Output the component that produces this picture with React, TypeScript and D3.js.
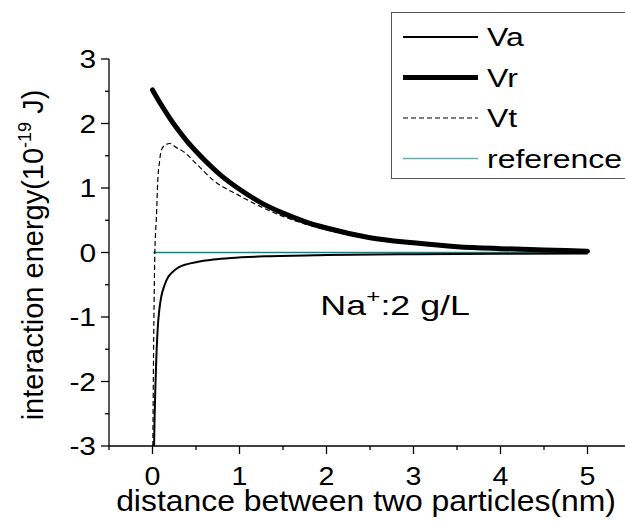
import React from 'react';
import * as d3 from 'd3';

// values (x in nm, energy in 1e-19 J)
const vaX = [0.018, 0.025, 0.035, 0.045, 0.06, 0.08, 0.1, 0.14, 0.18, 0.24, 0.3, 0.4, 0.5, 0.7, 0.9, 1.3, 2, 3, 4, 5];
const vaY = [-3.0, -2.5, -2.0, -1.6, -1.17, -0.87, -0.69, -0.5, -0.38, -0.29, -0.23, -0.18, -0.15, -0.11, -0.085, -0.06, -0.04, -0.027, -0.02, -0.016];

const vrX = [0, 0.1, 0.2, 0.3, 0.4, 0.5, 0.6, 0.8, 1, 1.25, 1.5, 1.75, 2, 2.5, 3, 3.5, 4, 4.5, 5];
const vrY = [2.52, 2.29, 2.08, 1.89, 1.72, 1.57, 1.43, 1.18, 0.98, 0.77, 0.61, 0.48, 0.38, 0.23, 0.15, 0.09, 0.06, 0.04, 0.02];

const vtX = [0.004, 0.012, 0.02, 0.027, 0.035, 0.045, 0.06, 0.08, 0.1, 0.14, 0.2, 0.27, 0.37, 0.5, 0.7, 1.0, 1.5, 2, 2.5, 3, 4, 5];
const vtY = [-3.0, -1.6, -0.6, 0.0, 0.3, 0.55, 1.1, 1.4, 1.58, 1.66, 1.69, 1.63, 1.55, 1.38, 1.12, 0.88, 0.56, 0.35, 0.22, 0.13, 0.04, 0.01];

const refX = [0.01, 5];
const refY = [0, 0];

const xMajor = [0, 1, 2, 3, 4, 5];
const xMinor = [-0.5, 0.5, 1.5, 2.5, 3.5, 4.5];
const yMajor = [-3, -2, -1, 0, 1, 2, 3];
const yMinor = [-2.5, -1.5, -0.5, 0.5, 1.5, 2.5];

const legendNames = ['Va', 'Vr', 'Vt', 'reference'];

const FONT = '"Liberation Sans", Arial, sans-serif';
const TEAL = '#008b8b';

const styles: Record<string, { stroke: string; width: number; dash?: string }> = {
  Va: { stroke: '#000', width: 2 },
  Vr: { stroke: '#000', width: 5 },
  Vt: { stroke: '#000', width: 1.2, dash: '5,3' },
  reference: { stroke: TEAL, width: 1.5 },
};

// text that is a little wider than plain Arial, as in the original
const T: React.FC<{
  x: number;
  y: number;
  size: number;
  sx?: number;
  anchor?: 'start' | 'middle' | 'end';
  rotate?: number;
  dy?: string;
  children: React.ReactNode;
}> = ({ x, y, size, sx = 1, anchor = 'start', rotate = 0, dy, children }) => (
  <text
    transform={`translate(${x},${y}) rotate(${rotate}) scale(${sx},1)`}
    fontSize={size}
    textAnchor={anchor}
    dy={dy}
  >
    {children}
  </text>
);

const App: React.FC = () => {
  const x = d3.scaleLinear().domain([-0.5, 5.5]).range([109, 631]);
  const y = d3.scaleLinear().domain([-3, 3]).range([446, 59]);

  const line = (xs: number[], ys: number[]) =>
    d3
      .line<number>()
      .x((_, i) => x(xs[i]))
      .y((d) => y(d))
      .curve(d3.curveMonotoneX)(ys) || '';

  const series = [
    { name: 'reference', d: line(refX, refY) },
    { name: 'Va', d: line(vaX, vaY) },
    { name: 'Vt', d: line(vtX, vtY) },
    { name: 'Vr', d: line(vrX, vrY) },
  ];

  const x0 = x.range()[0];
  const yb = y.range()[0];

  return (
    <div style={{ position: 'fixed', left: 0, top: 0 }}>
      <svg width={625} height={525} style={{ display: 'block', background: '#fff' }} fontFamily={FONT}>
        <defs>
          <clipPath id="plot">
            <rect x={x0} y={59} width={625 - x0} height={yb - 59} />
          </clipPath>
        </defs>

        <g clipPath="url(#plot)" fill="none">
          {series.map((s) => (
            <path
              key={s.name}
              d={s.d}
              stroke={styles[s.name].stroke}
              strokeWidth={styles[s.name].width}
              strokeDasharray={styles[s.name].dash}
              strokeLinecap={s.name === 'Vr' ? 'round' : 'butt'}
            />
          ))}
        </g>

        {/* axes */}
        <line x1={x0} x2={625} y1={yb} y2={yb} stroke="#000" strokeWidth={1.3} />
        <line x1={x0} x2={x0} y1={59} y2={yb} stroke="#000" strokeWidth={1.3} />
        {xMajor.map((t) => (
          <g key={'xM' + t}>
            <line x1={x(t)} x2={x(t)} y1={yb} y2={yb + 8} stroke="#000" strokeWidth={1.3} />
            <T x={x(t)} y={485} size={26} sx={1.1} anchor="middle">{t}</T>
          </g>
        ))}
        {xMinor.map((t) => (
          <line key={'xm' + t} x1={x(t)} x2={x(t)} y1={yb} y2={yb + 4} stroke="#000" strokeWidth={1.3} />
        ))}
        {yMajor.map((t) => (
          <g key={'yM' + t}>
            <line x1={x0 - 8} x2={x0} y1={y(t)} y2={y(t)} stroke="#000" strokeWidth={1.3} />
            <T x={96} y={y(t)} size={26} sx={1.15} anchor="end" dy="0.36em">{t}</T>
          </g>
        ))}
        {yMinor.map((t) => (
          <line key={'ym' + t} x1={x0 - 4} x2={x0} y1={y(t)} y2={y(t)} stroke="#000" strokeWidth={1.3} />
        ))}

        {/* titles */}
        <T x={366} y={511} size={29} sx={1.1} anchor="middle">distance between two particles(nm)</T>
        <T x={43} y={255} size={29} rotate={-90} anchor="middle">
          interaction energy(10
          <tspan fontSize={18} dy={-12}>-19</tspan>
          <tspan dy={12}> J)</tspan>
        </T>

        <T x={470} y={315} size={28} sx={1.28} anchor="end">
          Na
          <tspan fontSize={19} dy={-12}>+</tspan>
          <tspan dy={12}>:2 g/L</tspan>
        </T>

        {/* legend */}
        <rect x={391.5} y={12.5} width={260} height={166} fill="#fff" stroke="#555" strokeWidth={1} />
        {legendNames.map((n, i) => {
          const ly = 37 + i * 40.5;
          const st = styles[n];
          return (
            <g key={n}>
              <line
                x1={403}
                x2={478}
                y1={ly}
                y2={ly}
                stroke={n === 'reference' ? '#5fb0b0' : st.stroke}
                strokeWidth={st.width}
                strokeDasharray={st.dash}
              />
              <T x={487} y={ly} size={25} sx={1.28} dy="0.36em">{n}</T>
            </g>
          );
        })}
      </svg>
    </div>
  );
};

export default App;
